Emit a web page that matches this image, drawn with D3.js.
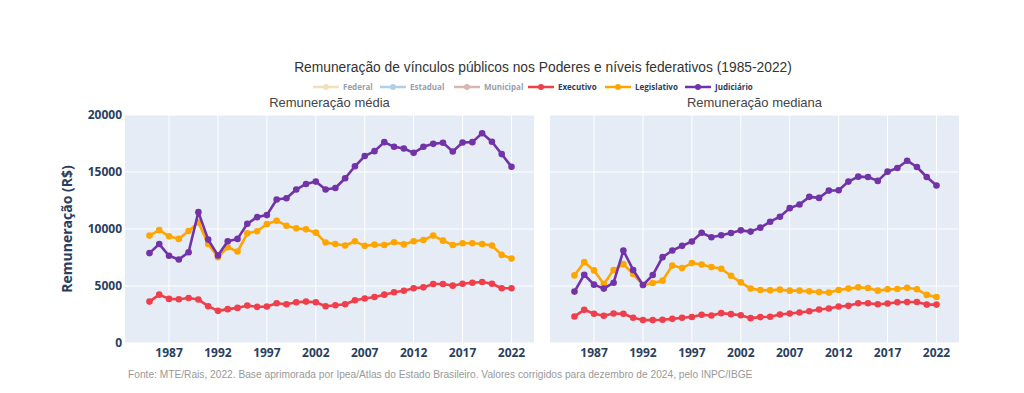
<!DOCTYPE html>
<html>
<head>
<meta charset="utf-8">
<script src="https://cdn.jsdelivr.net/npm/d3@7"></script>
<style>
  body { margin: 0; background: #fff; }
  svg { display: block; }
</style>
</head>
<body>
<svg id="chart" width="1024" height="393"></svg>
<script>
const years = d3.range(1985, 2023);

// Remuneração média
const execMedia = [3630, 4240, 3870, 3840, 3950, 3810, 3230, 2820, 2970, 3080, 3290, 3170, 3200, 3490, 3400, 3580, 3630, 3580, 3230, 3310, 3400, 3750, 3900, 4040, 4240, 4450, 4580, 4800, 4880, 5170, 5170, 5030, 5200, 5290, 5350, 5200, 4800, 4800];
const legMedia = [9420, 9900, 9360, 9130, 9830, 10580, 8690, 7530, 8400, 8020, 9620, 9800, 10440, 10730, 10290, 10060, 9970, 9680, 8810, 8690, 8550, 8920, 8520, 8630, 8600, 8840, 8650, 8920, 9040, 9420, 8980, 8600, 8750, 8750, 8690, 8550, 7730, 7410];
const judMedia = [7880, 8680, 7650, 7330, 7960, 11480, 9070, 7680, 8920, 9130, 10460, 11040, 11220, 12590, 12700, 13460, 13950, 14160, 13460, 13600, 14450, 15500, 16400, 16830, 17620, 17210, 17060, 16680, 17210, 17470, 17560, 16800, 17590, 17620, 18400, 17650, 16570, 15460];

// Remuneração mediana
const execMediana = [2330, 2910, 2560, 2390, 2590, 2560, 2210, 2010, 2010, 2040, 2120, 2210, 2280, 2470, 2410, 2620, 2530, 2440, 2180, 2270, 2300, 2500, 2590, 2670, 2790, 2940, 3020, 3200, 3260, 3490, 3490, 3400, 3460, 3580, 3600, 3600, 3370, 3370];
const legMediana = [5930, 7090, 6370, 5180, 6400, 6920, 6050, 5090, 5260, 5470, 6800, 6570, 7010, 6890, 6660, 6510, 5900, 5320, 4770, 4650, 4620, 4680, 4590, 4590, 4530, 4480, 4420, 4650, 4770, 4880, 4830, 4590, 4710, 4740, 4850, 4710, 4220, 4040];
const judMediana = [4510, 5990, 5120, 4770, 5290, 8110, 6400, 5090, 5960, 7530, 8110, 8520, 8900, 9670, 9270, 9450, 9650, 9880, 9770, 10120, 10640, 11080, 11830, 12150, 12820, 12730, 13370, 13400, 14160, 14590, 14560, 14220, 15030, 15350, 15990, 15440, 14560, 13810];

const legendNames = ["Federal", "Estadual", "Municipal", "Executivo", "Legislativo", "Judiciário"];
const legendColors = ["#e6c27a", "#6a9fd0", "#b86e6a", "#ef3f4b", "#ffa500", "#7232a8"];
const legendHidden = [true, true, true, false, false, false];
const yTicks = [0, 5000, 10000, 15000, 20000];
const xTicks = [1987, 1992, 1997, 2002, 2007, 2012, 2017, 2022];

const panels = [
    { title: "Remuneração média", x0: 125, series: [execMedia, legMedia, judMedia] },
    { title: "Remuneração mediana", x0: 550, series: [execMediana, legMediana, judMediana] }
];

const svg = d3.select("#chart");
const plotW = 409, plotTop = 115, plotBottom = 343;
const ink = "#2a3f5f";

const y = d3.scaleLinear().domain([0, 20000]).range([plotBottom, plotTop]);

svg.append("text")
    .attr("x", 543).attr("y", 72)
    .attr("text-anchor", "middle")
    .style("font-family", "'Liberation Sans', Arial, sans-serif")
    .style("font-size", "13.8px")
    .style("fill", "#333")
    .text("Remuneração de vínculos públicos nos Poderes e níveis federativos (1985-2022)");

// legenda
const legendX = [313, 380, 454, 528, 605, 685];
legendNames.forEach((name, i) => {
    const g = svg.append("g")
        .attr("transform", `translate(${legendX[i]},87)`)
        .style("opacity", legendHidden[i] ? 0.5 : 1);
    g.append("line")
        .attr("x1", 0).attr("x2", 26)
        .attr("stroke", legendColors[i]).attr("stroke-width", 2.5);
    g.append("circle")
        .attr("cx", 13).attr("r", 3)
        .attr("fill", legendColors[i]);
    g.append("text")
        .attr("x", 30).attr("y", 3)
        .style("font-family", "'Open Sans', sans-serif")
        .style("font-size", "8px")
        .style("font-weight", "bold")
        .style("fill", ink)
        .text(name);
});

panels.forEach((p, pi) => {
    const x = d3.scaleLinear().domain([1982.5, 2024.3]).range([p.x0, p.x0 + plotW]);
    const g = svg.append("g");

    g.append("rect")
        .attr("x", p.x0).attr("y", plotTop)
        .attr("width", plotW).attr("height", plotBottom - plotTop)
        .attr("fill", "#e5ecf6");

    g.selectAll(".hgrid").data(yTicks).enter().append("line")
        .attr("x1", p.x0).attr("x2", p.x0 + plotW)
        .attr("y1", d => y(d)).attr("y2", d => y(d))
        .attr("stroke", "#fff").attr("stroke-width", 1);

    g.selectAll(".vgrid").data(xTicks).enter().append("line")
        .attr("x1", d => x(d)).attr("x2", d => x(d))
        .attr("y1", plotTop).attr("y2", plotBottom)
        .attr("stroke", "#fff").attr("stroke-width", 1);

    g.selectAll(".xlab").data(xTicks).enter().append("text")
        .attr("x", d => x(d)).attr("y", 357)
        .attr("text-anchor", "middle")
        .style("font-family", "'Open Sans', sans-serif")
        .style("font-size", "12px")
        .style("font-weight", "bold")
        .style("fill", ink)
        .text(d => d);

    if (pi === 0) {
        g.selectAll(".ylab").data(yTicks).enter().append("text")
            .attr("x", p.x0 - 3).attr("y", d => y(d) + 4)
            .attr("text-anchor", "end")
            .style("font-family", "'Open Sans', sans-serif")
            .style("font-size", "12px")
            .style("font-weight", "bold")
            .style("fill", ink)
            .text(d => d);
    }

    g.append("text")
        .attr("x", p.x0 + plotW / 2).attr("y", 107)
        .attr("text-anchor", "middle")
        .style("font-family", "'Liberation Sans', Arial, sans-serif")
        .style("font-size", "13px")
        .style("fill", "#444")
        .text(p.title);

    const line = d3.line()
        .x((d, i) => x(years[i]))
        .y(d => y(d));

    p.series.forEach((vals, si) => {
        const color = legendColors[3 + si];
        g.append("path")
            .datum(vals)
            .attr("d", line)
            .attr("fill", "none")
            .attr("stroke", color)
            .attr("stroke-width", 2.6)
            .attr("stroke-linejoin", "round");
        g.selectAll(null).data(vals).enter().append("circle")
            .attr("cx", (d, i) => x(years[i]))
            .attr("cy", d => y(d))
            .attr("r", 3.3)
            .attr("fill", color);
    });
});

svg.append("text")
    .attr("transform", `translate(72,${(plotTop + plotBottom) / 2}) rotate(-90)`)
    .attr("text-anchor", "middle")
    .style("font-family", "'Open Sans', sans-serif")
    .style("font-size", "14px")
    .style("font-weight", "bold")
    .style("fill", ink)
    .text("Remuneração (R$)");

svg.append("text")
    .attr("x", 128).attr("y", 378)
    .style("font-family", "'Liberation Sans', Arial, sans-serif")
    .style("font-size", "10.2px")
    .style("fill", "#999")
    .text("Fonte: MTE/Rais, 2022. Base aprimorada por Ipea/Atlas do Estado Brasileiro. Valores corrigidos para dezembro de 2024, pelo INPC/IBGE");
</script>
</body>
</html>
